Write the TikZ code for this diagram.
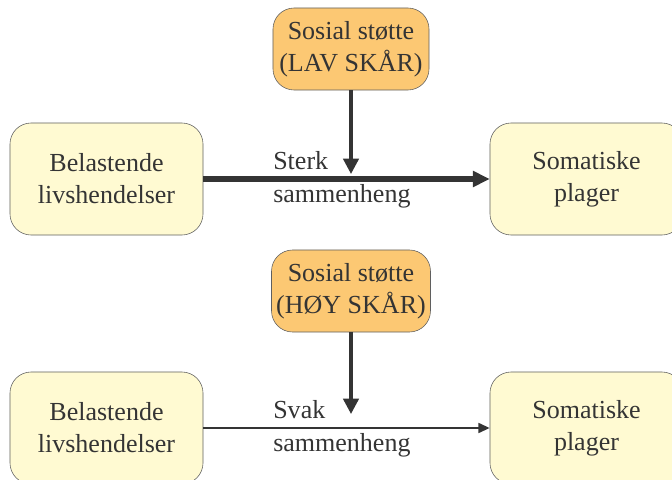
\documentclass[tikz,border=0pt]{standalone}
\usepackage{fontspec}
\setmainfont{Liberation Serif}
\usetikzlibrary{positioning, arrows.meta}
\definecolor{BoxYellow}{RGB}{255,250,210}
\definecolor{BoxOrange}{RGB}{252,200,115}
\definecolor{EdgeGray}{RGB}{95,95,95}
\definecolor{InkGray}{RGB}{52,52,52}

\tikzset{
  eventbox/.style={draw=EdgeGray, fill=BoxYellow, rounded corners=15pt,
                   minimum width=4.825cm, minimum height=2.8cm,
                   align=center, text=InkGray, font=\fontsize{18.5}{22.7}\selectfont},
  supportbox/.style={eventbox, fill=BoxOrange, minimum width=3.9cm,
                     minimum height=2.05cm},
  linktext/.style={anchor=west, align=left, text=InkGray, inner sep=0pt,
                   font=\fontsize{18.5}{23.5}\selectfont},
  link/.style={InkGray, -{Triangle[length=12pt, width=11pt]}}
}

\begin{document}
\begin{tikzpicture}[x=0.025cm, y=-0.025cm]
  \useasboundingbox (0,0) rectangle (672,480);
  \clip (0,0) rectangle (672,480);

  % upper panel: low support
  \node[eventbox]   (eventsA)  at (106.5,179) {Belastende\\livshendelser};
  \node[eventbox]   (plagerA)  at (586.5,179) {Somatiske\\plager};
  \node[supportbox] (supportA) at (351,49)    {Sosial støtte\\(LAV SKÅR)};
  \coordinate (hitA) at (351,174);
  \draw[link, line width=3.6pt] (eventsA) -- (plagerA);
  \draw[link, line width=2.4pt, -{Triangle[length=11pt, width=11pt]}]
        (supportA) -- (hitA);
  \node[linktext] (labelA) at (273,180) {Sterk\\sammenheng};

  % lower panel: high support
  \node[eventbox]   (eventsB)  at (106.5,428) {Belastende\\livshendelser};
  \node[eventbox]   (plagerB)  at (586.5,428) {Somatiske\\plager};
  \node[supportbox] (supportB) at (351,291)   {Sosial støtte\\(HØY SKÅR)};
  \coordinate (hitB) at (351,414);
  \draw[link, line width=1.5pt, -{Triangle[length=8pt, width=7pt]}]
        (eventsB) -- (plagerB);
  \draw[link, line width=2.4pt, -{Triangle[length=11pt, width=11pt]}]
        (supportB) -- (hitB);
  \node[linktext] (labelB) at (273,429) {Svak\\sammenheng};
\end{tikzpicture}
\end{document}
